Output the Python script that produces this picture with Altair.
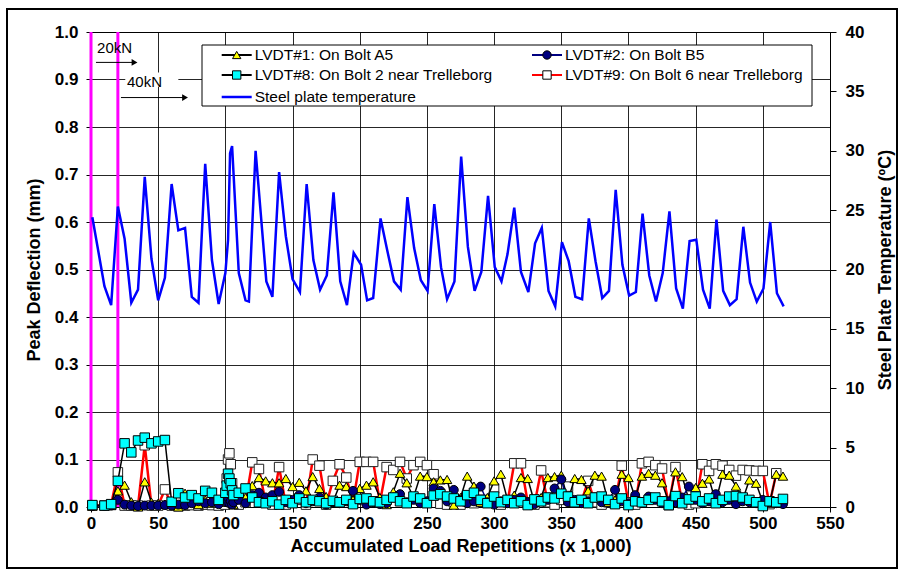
import altair as alt
import pandas as pd

FONT = "Liberation Sans"

# ---------------- data ----------------
defl_x = [1, 10, 15, 20, 25, 30, 35, 40, 45, 50, 55, 60, 65, 70, 75, 80, 85, 90, 95, 100,
          101, 102, 103, 104, 105, 106] + list(range(110, 520, 5))

lvdt1 = [0.002, 0.003, 0.003, 0.034, 0.046, 0.011, 0.000, 0.053, 0.010, 0.008, 0.006, 0.010, 0.000, 0.029, 0.010, 0.005, 0.015, 0.008, 0.012, 0.025,
         0.010, 0.035, 0.015, 0.030, 0.020, 0.005,
         0.030, 0.020, 0.045, 0.062, 0.055, 0.051, 0.051, 0.060, 0.043, 0.052,
         0.034, 0.064, 0.039, 0.022, 0.010, 0.046, 0.043, 0.015, 0.039, 0.046,
         0.053, 0.020, 0.005, 0.032, 0.071, 0.051, 0.020, 0.065, 0.064, 0.053,
         0.057, 0.058, 0.004, 0.020, 0.065, 0.044, 0.010, 0.020, 0.055, 0.069,
         0.015, 0.025, 0.062, 0.060, 0.010, 0.020, 0.062, 0.064, 0.067, 0.015,
         0.060, 0.058, 0.034, 0.067, 0.065, 0.010, 0.015, 0.069, 0.062, 0.020,
         0.065, 0.071, 0.067, 0.051, 0.010, 0.074, 0.064, 0.015, 0.041, 0.050,
         0.059, 0.010, 0.069, 0.067, 0.044, 0.015, 0.057, 0.050, 0.010, 0.008,
         0.069, 0.065]

lvdt2 = [0.002, 0.002, 0.003, 0.015, 0.005, 0.003, 0.002, 0.003, 0.003, 0.003, 0.004, 0.003, 0.005, 0.004, 0.008, 0.012, 0.008, 0.010, 0.006, 0.015,
         0.010, 0.020, 0.008, 0.012, 0.005, 0.010,
         0.015, 0.008, 0.025, 0.030, 0.020, 0.025, 0.032, 0.010, 0.015, 0.025,
         0.008, 0.012, 0.020, 0.005, 0.010, 0.008, 0.012, 0.034, 0.015, 0.005,
         0.010, 0.006, 0.008, 0.020, 0.027, 0.010, 0.015, 0.008, 0.012, 0.039,
         0.034, 0.012, 0.036, 0.015, 0.008, 0.012, 0.043, 0.010, 0.005, 0.012,
         0.008, 0.015, 0.020, 0.010, 0.006, 0.012, 0.015, 0.039, 0.058, 0.010,
         0.015, 0.008, 0.012, 0.020, 0.010, 0.015, 0.036, 0.012, 0.008, 0.025,
         0.010, 0.022, 0.015, 0.008, 0.012, 0.010, 0.020, 0.043, 0.015, 0.008,
         0.012, 0.027, 0.010, 0.015, 0.006, 0.012, 0.010, 0.008, 0.015, 0.010,
         0.008, 0.006]

lvdt8 = [0.004, 0.003, 0.006, 0.055, 0.134, 0.115, 0.140, 0.146, 0.134, 0.138, 0.141, 0.011, 0.029, 0.020, 0.025, 0.018, 0.034, 0.030, 0.015, 0.030,
         0.045, 0.070, 0.060, 0.050, 0.035, 0.025,
         0.030, 0.039, 0.020, 0.010, 0.008, 0.012, 0.005, 0.015, 0.008, 0.018,
         0.010, 0.015, 0.012, 0.008, 0.013, 0.010, 0.015, 0.006, 0.017, 0.018,
         0.012, 0.010, 0.015, 0.020, 0.012, 0.008, 0.022, 0.018, 0.008, 0.024,
         0.027, 0.022, 0.018, 0.012, 0.025, 0.030, 0.015, 0.008, 0.022, 0.010,
         0.015, 0.008, 0.012, 0.004, 0.016, 0.012, 0.020, 0.018, 0.028, 0.022,
         0.010, 0.015, 0.008, 0.020, 0.022, 0.015, 0.006, 0.018, 0.004, 0.012,
         0.010, 0.015, 0.020, 0.012, 0.004, 0.023, 0.008, 0.016, 0.022, 0.012,
         0.018, 0.008, 0.015, 0.022, 0.023, 0.020, 0.015, 0.010, 0.002, 0.012,
         0.010, 0.017]

lvdt9 = [0.003, 0.003, 0.005, 0.073, 0.003, 0.003, 0.003, 0.130, 0.003, 0.003, 0.037, 0.003, 0.002, 0.003, 0.004, 0.003, 0.005, 0.004, 0.003, 0.005,
         0.060, 0.100, 0.113, 0.090, 0.050, 0.010,
         0.005, 0.010, 0.094, 0.080, 0.010, 0.005, 0.084, 0.005, 0.010, 0.015,
         0.005, 0.100, 0.087, 0.005, 0.055, 0.090, 0.062, 0.010, 0.095, 0.095,
         0.095, 0.010, 0.084, 0.078, 0.095, 0.060, 0.088, 0.095, 0.088, 0.069,
         0.007, 0.005, 0.010, 0.005, 0.012, 0.008, 0.015, 0.010, 0.039, 0.005,
         0.010, 0.092, 0.092, 0.010, 0.005, 0.077, 0.010, 0.005, 0.015, 0.043,
         0.010, 0.012, 0.055, 0.010, 0.005, 0.010, 0.008, 0.087, 0.010, 0.005,
         0.092, 0.095, 0.088, 0.081, 0.004, 0.084, 0.010, 0.005, 0.008, 0.090,
         0.076, 0.090, 0.087, 0.078, 0.066, 0.078, 0.077, 0.076, 0.076, 0.006,
         0.071, None]

temp_x = [1, 10, 15, 20, 25, 30, 35, 40, 45, 50, 55, 60, 65, 70, 75, 80, 85, 90, 95, 100,
          102, 103.5, 105, 110, 115, 117.5, 122.5, 130.5, 135, 140, 145, 150, 155.5, 160.5,
          165.5, 170.5, 175.5, 180.5, 185.5, 190.5, 195.5, 201, 205.5, 210, 215.5, 220.5,
          225.5, 230.5, 235.5, 240.5, 245.5, 250.5, 255.5, 260.5, 265, 270.5, 275.5, 280.5,
          285.5, 290.5, 295.5, 300.5, 305.5, 310, 315, 320, 325.5, 330.5, 335.5, 340.5,
          345.5, 350.5, 355.5, 360.5, 365.5, 370.5, 375.5, 380.5, 385.5, 390.5, 395.5,
          400.5, 405.5, 410.5, 415.5, 420.5, 425.5, 430.5, 435.5, 440.5, 445.5, 450.5,
          455.5, 460.5, 465.5, 470.5, 475.5, 480.5, 485.5, 490.5, 495.5, 500.5, 505.5,
          510.5, 515.5]
temp_c = [24.4, 18.6, 17.0, 25.3, 22.6, 17.2, 18.3, 27.8, 20.9, 17.4, 19.3, 27.2, 23.3, 23.5,
          17.7, 17.2, 28.9, 20.8, 17.1, 19.7, 22.5, 29.8, 30.4, 19.7, 17.4, 17.3, 30.0, 19.0,
          17.7, 28.2, 22.8, 19.2, 18.1, 27.2, 20.8, 18.3, 19.5, 26.5, 19.0, 17.0, 21.4, 20.4,
          17.4, 17.6, 24.3, 21.6, 19.0, 18.3, 26.1, 21.8, 19.1, 18.2, 25.5, 20.2, 17.5, 19.0,
          29.5, 21.9, 18.2, 19.8, 26.2, 20.2, 19.0, 21.3, 25.2, 19.8, 18.1, 22.2, 23.5, 18.2,
          16.9, 22.3, 20.7, 17.7, 17.5, 24.3, 20.7, 17.6, 18.2, 26.7, 20.4, 17.8, 18.1, 24.7,
          19.5, 17.3, 19.7, 24.9, 18.4, 16.7, 22.4, 22.5, 18.3, 16.7, 24.2, 18.2, 17.0, 17.5,
          23.6, 18.9, 17.3, 18.4, 24.0, 18.0, 16.9]

load_lines_x = [0, 20]          # magenta load-change markers
x_ticks = list(range(0, 551, 50))
y_ticks = [round(i * 0.1, 1) for i in range(11)]
t_ticks = list(range(0, 41, 5))

assert len(defl_x) == len(lvdt1) == len(lvdt2) == len(lvdt8) == len(lvdt9)
assert len(temp_x) == len(temp_c)

def series_df(vals):
    df = pd.DataFrame({"x": defl_x, "d": vals})
    return df.dropna()

df1, df2, df8, df9 = series_df(lvdt1), series_df(lvdt2), series_df(lvdt8), series_df(lvdt9)
dft = pd.DataFrame({"x": temp_x, "t": temp_c})

# ---------------- encodings ----------------
X = alt.X("x:Q",
          scale=alt.Scale(domain=[0, 550], nice=False, zero=False),
          axis=alt.Axis(values=x_ticks, title="Accumulated Load Repetitions (x 1,000)",
                        grid=True, labelFlush=False, tickSize=5, labelPadding=3,
                        titlePadding=6))
Y = alt.Y("d:Q",
          scale=alt.Scale(domain=[0, 1], nice=False),
          axis=alt.Axis(values=y_ticks, format=".1f", title="Peak Deflection (mm)",
                        grid=True, tickSize=5, labelPadding=8, titlePadding=11))
T = alt.Y("t:Q",
          scale=alt.Scale(domain=[0, 40], nice=False),
          axis=alt.Axis(values=t_ticks, orient="right", title="Steel Plate Temperature (ºC)",
                        grid=False, tickSize=6, labelPadding=9, titlePadding=13,
                        titleAngle=270, titleBaseline="top"))

def series_layers(df, line_color, line_w, shape, fill, stroke, size):
    line = alt.Chart(df).mark_line(color=line_color, strokeWidth=line_w).encode(x=X, y=Y)
    pts = alt.Chart(df).mark_point(shape=shape, filled=True, fill=fill, stroke=stroke,
                                   strokeWidth=1, size=size, opacity=1).encode(x=X, y=Y)
    return [line, pts]

layers = []
layers += series_layers(df9, "#FF0000", 2.5, "square", "white", "#222222", 90)
layers += series_layers(df1, "#000000", 1.5, "triangle-up", "#FFFF00", "#000000", 90)
layers += series_layers(df2, "#000080", 1.5, "circle", "#000080", "#000000", 80)
layers += series_layers(df8, "#000000", 1.5, "square", "#00FFFF", "#000000", 90)

# magenta load lines
mag = alt.Chart(pd.DataFrame({"x": load_lines_x, "d": [0, 0], "d2": [1, 1]})).mark_rule(
    color="#FF00FF", strokeWidth=3).encode(x=X, y=Y, y2="d2:Q")

# annotations
white_box = alt.Chart(pd.DataFrame({"x": [25.5], "x2": [65.0], "d": [0.885], "d2": [0.915]})).mark_rect(
    color="white").encode(x=X, x2="x2:Q", y=Y, y2="d2:Q")
ann = pd.DataFrame({"x": [4.5, 26.8], "d": [0.967, 0.895], "label": ["20kN", "40kN"]})
ann_text = alt.Chart(ann).mark_text(align="left", baseline="middle", font=FONT, fontSize=15,
                                    color="black").encode(x=X, y=Y, text="label:N")
arrows = pd.DataFrame({"x": [3.7, 22.3], "x2": [33.0, 70.5], "d": [0.936, 0.862]})
arrow_shaft = alt.Chart(arrows).mark_rule(color="black", strokeWidth=1).encode(x=X, x2="x2:Q", y=Y)
heads = pd.DataFrame({"x": [32.4, 70.0], "d": [0.936, 0.862]})
arrow_head = alt.Chart(heads).mark_point(shape="triangle-right", filled=True, color="black",
                                         size=45, opacity=1).encode(x=X, y=Y)

# legend (drawn manually)
one = alt.Data(values=[{}])
legend_layers = [
    alt.Chart(one).mark_rect(fill="white", stroke="black", strokeWidth=1).encode(
        x=alt.value(111), x2=alt.value(721), y=alt.value(13), y2=alt.value(74))
]

def leg_item(cx, cy, label, line_color, line_w, shape, fill, stroke, size):
    out = [alt.Chart(one).mark_rule(color=line_color, strokeWidth=line_w).encode(
        x=alt.value(cx - 15), x2=alt.value(cx + 15), y=alt.value(cy))]
    if shape:
        out.append(alt.Chart(one).mark_point(shape=shape, filled=True, fill=fill, stroke=stroke,
                                             strokeWidth=1, size=size, opacity=1).encode(
            x=alt.value(cx), y=alt.value(cy)))
    out.append(alt.Chart(one).mark_text(align="left", baseline="middle", font=FONT, fontSize=15.5,
                                        color="black").encode(
        x=alt.value(cx + 18), y=alt.value(cy), text=alt.value(label)))
    return out

legend_layers += leg_item(145.7, 23, "LVDT#1: On Bolt A5", "#000000", 2, "triangle-up", "#FFFF00", "#000000", 70)
legend_layers += leg_item(145.7, 43, "LVDT#8: On Bolt 2 near Trelleborg", "#000000", 2, "square", "#00FFFF", "#000000", 70)
legend_layers += leg_item(145.7, 65, "Steel plate temperature", "#0000FF", 2.5, None, None, None, 0)
legend_layers += leg_item(456, 23, "LVDT#2: On Bolt B5", "#000080", 2, "circle", "#000080", "#000000", 70)
legend_layers += leg_item(456, 43, "LVDT#9: On Bolt 6 near Trelleborg", "#FF0000", 2, "square", "white", "#000000", 70)

# outer frame
frame = alt.Chart(one).mark_rect(fill="white", fillOpacity=0, stroke="black", strokeWidth=2).encode(
    x=alt.value(-84), x2=alt.value(806), y=alt.value(-23), y2=alt.value(536))

left = alt.layer(mag, *layers, white_box, ann_text, arrow_shaft, arrow_head, *legend_layers, frame)

temp_line = alt.Chart(dft).mark_line(color="#0000FF", strokeWidth=2.5).encode(x=X, y=T)

chart = alt.layer(left, temp_line).resolve_scale(y="independent").properties(
    width=739, height=475,
    autosize=alt.AutoSizeParams(type="none"),
    padding={"left": 91, "top": 32, "right": 74, "bottom": 68},
    background="white",
).configure_view(stroke="black", strokeWidth=1).configure_axis(
    labelFont=FONT, labelFontWeight="bold", labelFontSize=17, labelColor="black",
    titleFont=FONT, titleFontWeight="bold", titleFontSize=18, titleColor="black",
    domainColor="black", domainWidth=1, tickColor="black", tickWidth=1,
    gridColor="#000000", gridWidth=1, gridOpacity=0.85,
)

chart.save("out.html", embed_options={"renderer": "svg", "actions": False})
